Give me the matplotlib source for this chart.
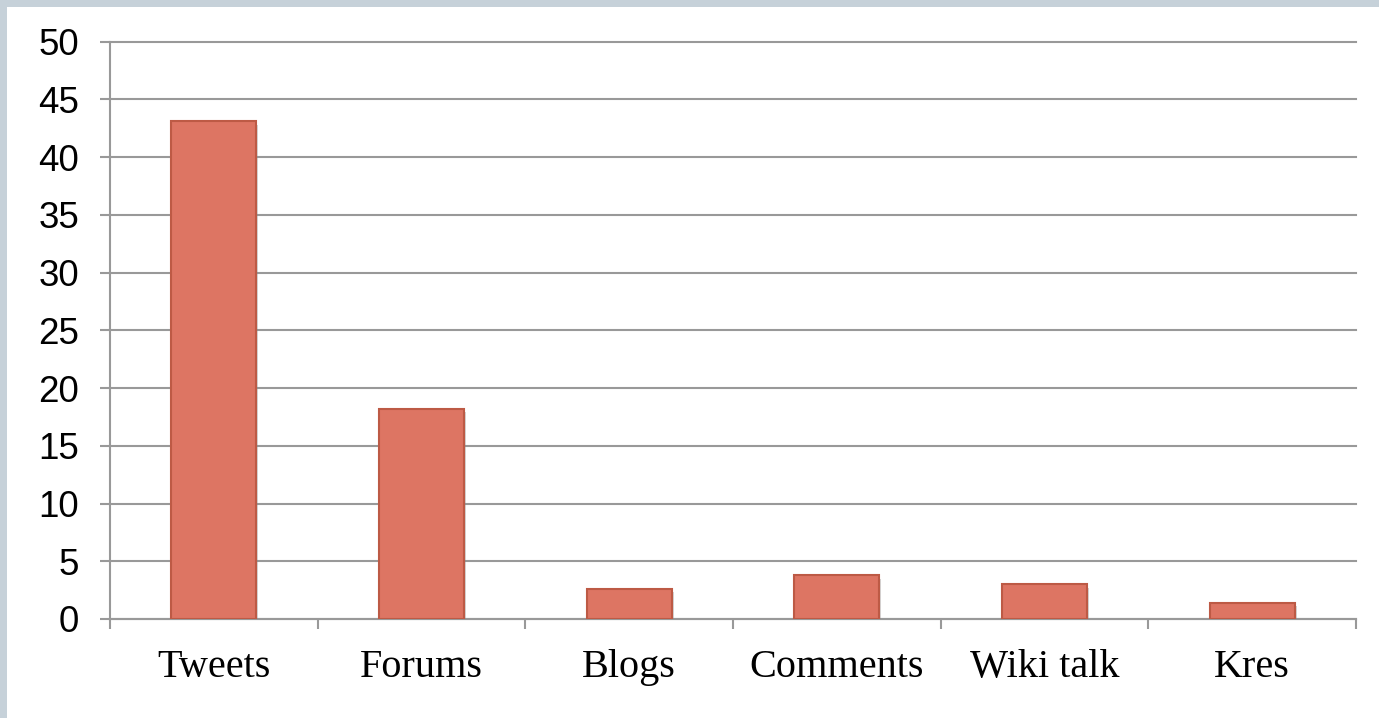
import matplotlib
matplotlib.use("Agg")
import matplotlib.pyplot as plt
import matplotlib.patheffects as pe
from matplotlib.patches import Rectangle
import numpy as np

categories = ["Tweets", "Forums", "Blogs", "Comments", "Wiki talk", "Kres"]
values = [43.1, 18.2, 2.6, 3.8, 3.0, 1.4]
yticks = [0, 5, 10, 15, 20, 25, 30, 35, 40, 45, 50]

W, H = 1379, 718
fig = plt.figure(figsize=(W / 100, H / 100), dpi=100)
fig.patch.set_facecolor("white")

border = "#C6D1D9"
fig.add_artist(Rectangle((0, 1 - 7 / H), 1, 7 / H, transform=fig.transFigure,
                         facecolor=border, edgecolor="none", zorder=0))
fig.add_artist(Rectangle((0, 0), 7 / W, 1, transform=fig.transFigure,
                         facecolor=border, edgecolor="none", zorder=0))

left, right = 110 / W, 1356 / W
bottom, top = 1 - 619 / H, 1 - 41.7 / H
ax = fig.add_axes([left, bottom, right - left, top - bottom])

x = np.arange(len(categories))
bars = ax.bar(x, values, width=0.41, color="#DD7563", edgecolor="#BD5A45",
              linewidth=1.5, zorder=3)
for b in bars:
    b.set_path_effects([pe.SimplePatchShadow(offset=(1.5, -2.5), shadow_rgbFace="#888888", alpha=0.35),
                        pe.Normal()])

ax.set_xlim(-0.5, len(categories) - 0.5)
ax.set_ylim(0, 50)
ax.set_yticks(yticks)
ax.set_yticklabels([str(t) for t in yticks], fontfamily="Liberation Sans", fontsize=26.5)
ax.yaxis.grid(True, color="#999999", linewidth=1.5, zorder=0)
for gl in ax.get_ygridlines():
    gl.set_clip_on(False)
ax.tick_params(axis="y", length=7.2, width=1.5, color="#999999", pad=15, labelcolor="black")

# x ticks at category boundaries, labels at centers
ax.set_xticks(np.arange(len(categories) + 1) - 0.5)
ax.set_xticklabels([])
ax.set_xticks(x, minor=True)
ax.set_xticklabels(categories, minor=True, fontfamily="Liberation Serif", fontsize=29)
ax.tick_params(axis="x", which="major", length=7.2, width=1.5, color="#999999")
ax.tick_params(axis="x", which="minor", length=0, pad=21.5, labelcolor="black")

for s in ["top", "right"]:
    ax.spines[s].set_visible(False)
for s in ["left", "bottom"]:
    ax.spines[s].set_color("#999999")
    ax.spines[s].set_linewidth(1.5)
ax.set_axisbelow(True)

fig.savefig("out.png", dpi=100, facecolor="white")
